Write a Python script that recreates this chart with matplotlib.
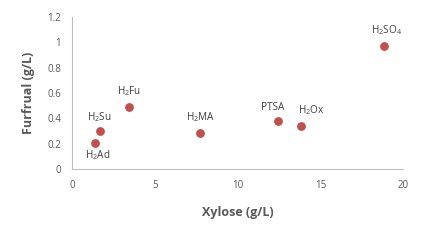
import matplotlib
matplotlib.use("Agg")
import matplotlib.pyplot as plt

labels = [r"H$_2$Ad", r"H$_2$Su", r"H$_2$Fu", r"H$_2$MA", "PTSA", r"H$_2$Ox", r"H$_2$SO$_4$"]
xylose = [1.39, 1.69, 3.44, 7.73, 12.45, 13.8, 18.85]
furfural = [0.205, 0.30, 0.49, 0.284, 0.379, 0.34, 0.97]
offsets = [(2, -12), (-1, 14), (0, 16), (0, 16), (-5, 14), (11, 16), (2, 16)]

plt.rcParams['font.family'] = ['Open Sans', 'DejaVu Sans']
plt.rcParams['mathtext.default'] = 'regular'

fig = plt.figure(figsize=(4.27, 2.43), dpi=100)
ax = fig.add_axes([0.169, 0.3045, 0.775, 0.6255])
ax.scatter(xylose, furfural, s=40, color='#c0504d', zorder=3, linewidths=0)
for lab, x, y, off in zip(labels, xylose, furfural, offsets):
    ax.annotate(lab, (x, y), xytext=off, textcoords='offset pixels',
                ha='center', va='center', fontsize=7.2, color='#404040')

ax.set_xlim(0, 20)
ax.set_ylim(0, 1.2)
ax.set_xticks([0, 5, 10, 15, 20])
ax.set_yticks([0, 0.2, 0.4, 0.6, 0.8, 1.0, 1.2])
ax.set_yticklabels(['0', '0.2', '0.4', '0.6', '0.8', '1', '1.2'])
ax.tick_params(length=0, labelsize=7, labelcolor='#595959', pad=8)
for s in ['top', 'right']:
    ax.spines[s].set_visible(False)
for s in ['left', 'bottom']:
    ax.spines[s].set_color('#bfbfbf')
    ax.spines[s].set_linewidth(0.8)
ax.set_xlabel('Xylose (g/L)', fontsize=9, fontweight='bold', color='#595959', labelpad=11)
ax.set_ylabel('Furfrual (g/L)', fontsize=9, fontweight='bold', color='#595959', labelpad=9)

fig.savefig('out.png', dpi=100)
